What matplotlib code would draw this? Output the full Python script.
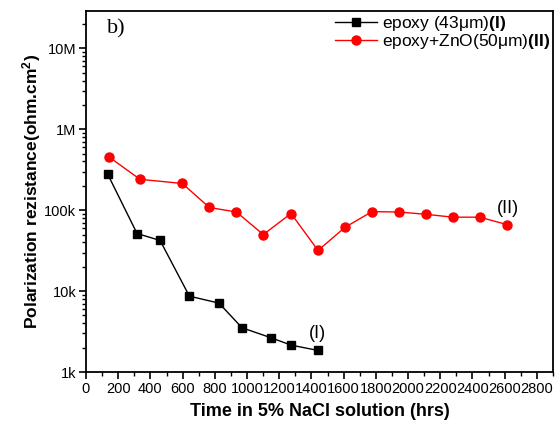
import matplotlib

matplotlib.use("Agg")
import matplotlib.pyplot as plt
from matplotlib.ticker import FixedLocator, FuncFormatter, LogLocator, MultipleLocator, NullFormatter

plt.rcParams["font.family"] = ["Liberation Sans", "DejaVu Sans"]
plt.rcParams["mathtext.fontset"] = "custom"
plt.rcParams["mathtext.rm"] = "Liberation Sans"
plt.rcParams["mathtext.bf"] = "Liberation Sans:bold"

# --- data ---------------------------------------------------------------------
t_epoxy = [135, 317, 460, 642, 826, 969, 1149, 1273, 1439]
rp_epoxy = [2.78e5, 5.15e4, 4.23e4, 8.66e3, 7.1e3, 3.52e3, 2.65e3, 2.15e3, 1.85e3]

t_zno = [143, 335, 598, 766, 934, 1101, 1273, 1441, 1609, 1776, 1942, 2110, 2278, 2445, 2613]
rp_zno = [4.55e5, 2.41e5, 2.14e5, 1.08e5, 9.5e4, 5.0e4, 9.1e4, 3.18e4, 6.16e4,
          9.6e4, 9.5e4, 8.9e4, 8.2e4, 8.2e4, 6.65e4]

y_ticks = [1e3, 1e4, 1e5, 1e6, 1e7]
y_tick_labels = ["1k", "10k", "100k", "1M", "10M"]

fig = plt.figure(figsize=(5.55, 4.25), dpi=100)
ax = fig.add_axes([86 / 555, 53 / 425, 467 / 555, 361 / 425])

ax.plot(t_epoxy, rp_epoxy, color="black", lw=1, marker="s", ms=5.5,
        label="epoxy (43\u03bcm)$\\mathbf{(I)}$")
ax.plot(t_zno, rp_zno, color="red", lw=1, marker="o", ms=6.5,
        label="epoxy+ZnO(50\u03bcm)$\\mathbf{(II)}$")

ax.set_yscale("log")
ax.set_xlim(0, 2900)
ax.set_ylim(1e3, 2.9e7)

ax.xaxis.set_major_locator(MultipleLocator(200))
ax.xaxis.set_minor_locator(MultipleLocator(100))
ax.yaxis.set_major_locator(FixedLocator(y_ticks))
ax.yaxis.set_major_formatter(FuncFormatter(lambda v, p: dict(zip(y_ticks, y_tick_labels)).get(v, "")))
ax.yaxis.set_minor_locator(LogLocator(base=10, subs=range(2, 10)))
ax.yaxis.set_minor_formatter(NullFormatter())

ax.tick_params(which="both", direction="out", top=False, right=False, labelsize=10.5, pad=2)
ax.tick_params(which="major", length=5, width=1.2)
ax.tick_params(which="minor", length=3, width=1)
for s in ax.spines.values():
    s.set_linewidth(1.3)

ax.set_xlabel("Time in 5% NaCl solution (hrs)", fontsize=13, fontweight="bold", labelpad=5)
ax.set_ylabel(r"Polarization rezistance(ohm.cm$\mathbf{^2}$)", fontsize=12.5,
              fontweight="bold", labelpad=1)

ax.text(130, 1.75e7, "b)", fontsize=16, family="Liberation Serif", ha="left", va="center")
ax.text(1440, 3.0e3, "(I)", fontsize=13, ha="center", va="center")
ax.text(2620, 1.05e5, "(II)", fontsize=13, ha="center", va="center")

ax.legend(loc="upper right", frameon=False, fontsize=12.5, handlelength=2.4,
          borderaxespad=0.0, labelspacing=-0.05, handletextpad=0.3, borderpad=0.15)

fig.savefig("out.png", dpi=100)
